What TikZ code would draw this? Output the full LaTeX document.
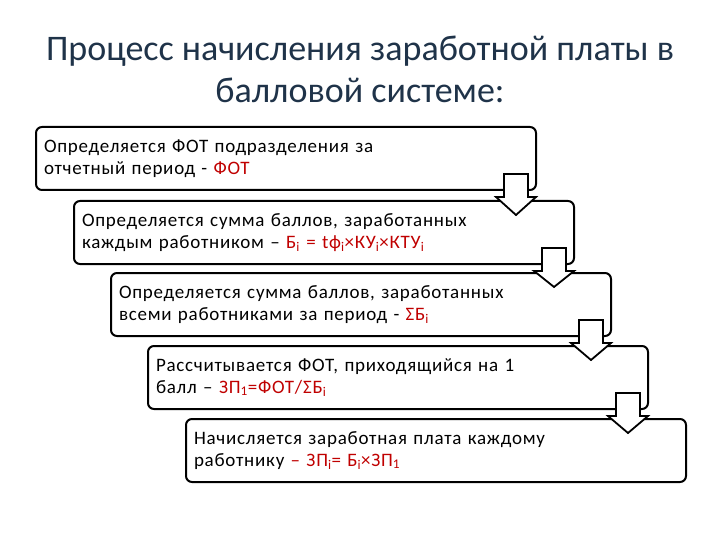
\documentclass[tikz,border=0pt]{standalone}
\usepackage{fontspec}
\setmainfont{Carlito}
\newfontfamily\boxfont{Carlito}[LetterSpace=4]
\usetikzlibrary{positioning, calc}
\definecolor{titleblue}{HTML}{1F3349}
\definecolor{formred}{HTML}{C00000}
\newcommand{\hl}[1]{\textcolor{formred}{#1}}
\newcommand{\ix}[1]{\textsubscript{#1}}

\begin{document}
\begin{tikzpicture}[x=1pt, y=-1pt, font=\boxfont\fontsize{19}{22}\selectfont,
    stepbox/.style={draw, line width=2pt, rounded corners=6pt, fill=white,
        anchor=north west, minimum width=500pt, minimum height=63pt,
        text width=484pt, inner sep=8pt, align=left},
    blockarrow/.style={draw, line width=1.8pt, fill=white, line join=miter}]
    \useasboundingbox (0,0) rectangle (720,540);

    % title
    \node[font=\rmfamily\fontsize{36}{42}\selectfont, text=titleblue, align=center] (title) at (360,69)
        {Процесс начисления заработной платы в\\балловой системе:};

    % steps
    \node[stepbox] (step1) at (35,126)
        {Определяется ФОТ подразделения за\\отчетный период - \hl{ФОТ}};
    \node[stepbox] (step2) at (73,200)
        {Определяется сумма баллов, заработанных\\каждым работником – \hl{Б\ix{i} = tф\ix{i}×КУ\ix{i}×КТУ\ix{i}}};
    \node[stepbox] (step3) at (110,272)
        {Определяется сумма баллов, заработанных\\всеми работниками за период - \hl{ΣБ\ix{i}}};
    \node[stepbox] (step4) at (147,345)
        {Рассчитывается ФОТ, приходящийся на 1\\балл – \hl{ЗП\ix{1}=ФОТ/ΣБ\ix{i}}};
    \node[stepbox] (step5) at (185,418)
        {Начисляется заработная плата каждому\\работнику \hl{– ЗП\ix{i}= Б\ix{i}×ЗП\ix{1}}};

    % arrows between steps
    \foreach \a/\b in {step1/step2, step2/step3, step3/step4, step4/step5} {
        \coordinate (c) at ($(\a.south east)+(-21,0)$);
        \coordinate (t) at ($(\b.north)+(0,15)$);
        \draw[blockarrow] ($(c)+(-12,-17)$) -- ($(c)+(12,-17)$) -- ($(c)+(12,6)$)
            -- ($(c)+(20,6)$) -- (c |- t) -- ($(c)+(-20,6)$)
            -- ($(c)+(-12,6)$) -- cycle;
    }
\end{tikzpicture}
\end{document}
